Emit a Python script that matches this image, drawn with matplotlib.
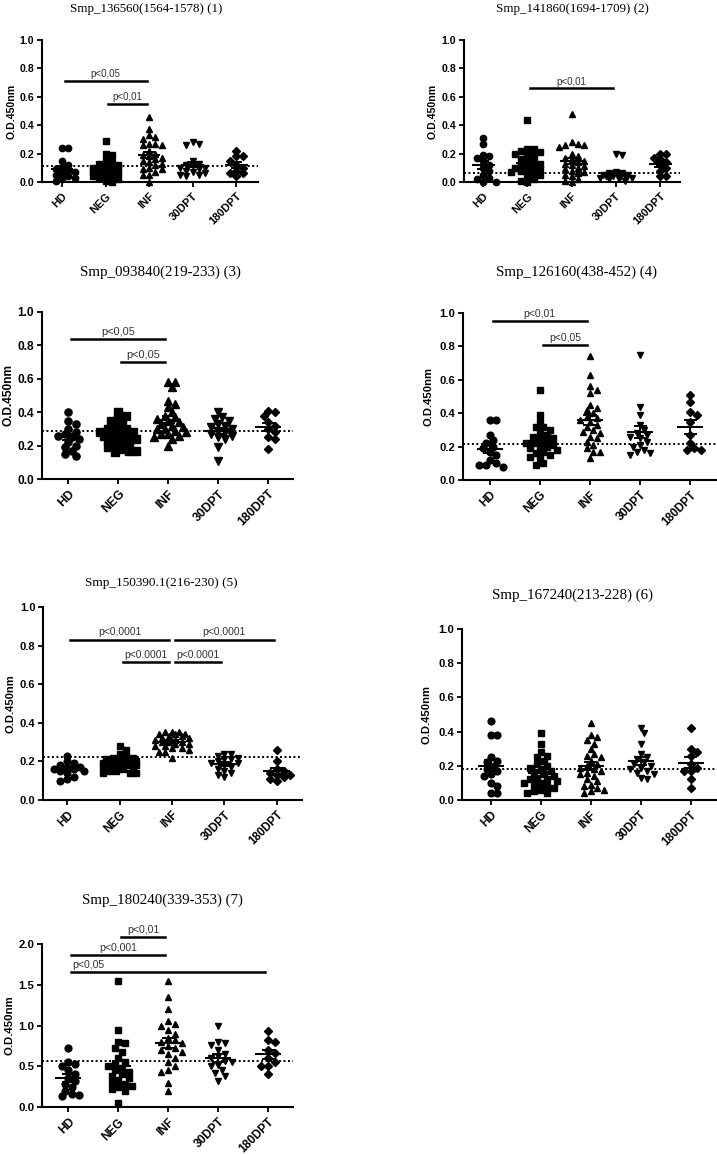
import numpy as np
import matplotlib.pyplot as plt

plt.rcParams['font.family'] = ['Liberation Sans', 'DejaVu Sans']

groups = ['HD', 'NEG', 'INF', '30DPT', '180DPT']
markers = ['o', 's', '^', 'v', 'D']

titles = ['Smp_136560(1564-1578) (1)', 'Smp_141860(1694-1709) (2)',
          'Smp_093840(219-233) (3)', 'Smp_126160(438-452) (4)',
          'Smp_150390.1(216-230) (5)', 'Smp_167240(213-228) (6)',
          'Smp_180240(339-353) (7)']

# panel 1
p1_hd = [0.24, 0.24, 0.15, 0.12, 0.10, 0.09, 0.08, 0.07, 0.06, 0.05, 0.04, 0.03, 0.02, 0.01]
p1_neg = [0.29, 0.20, 0.19, 0.15, 0.14, 0.13, 0.12, 0.11, 0.10, 0.10, 0.09, 0.09, 0.08,
          0.08, 0.07, 0.07, 0.06, 0.06, 0.05, 0.05, 0.04, 0.04, 0.03, 0.02, 0.01, 0.0]
p1_inf = [0.46, 0.37, 0.33, 0.32, 0.30, 0.27, 0.27, 0.26, 0.26, 0.22, 0.20, 0.19, 0.18,
          0.17, 0.16, 0.15, 0.14, 0.13, 0.12, 0.10, 0.09, 0.09, 0.07, 0.05, 0.05, 0.0]
p1_d30 = [0.28, 0.27, 0.26, 0.15, 0.13, 0.12, 0.11, 0.10, 0.10, 0.09, 0.08, 0.07, 0.06, 0.05, 0.05, 0.04]
p1_d180 = [0.22, 0.18, 0.18, 0.15, 0.12, 0.10, 0.08, 0.06, 0.06, 0.04]

# panel 2
p2_hd = [0.31, 0.27, 0.19, 0.18, 0.17, 0.15, 0.12, 0.10, 0.08, 0.05, 0.03, 0.02, 0.0, 0.0]
p2_neg = [0.44, 0.23, 0.23, 0.22, 0.21, 0.20, 0.19, 0.18, 0.16, 0.15, 0.14, 0.13, 0.12,
          0.11, 0.10, 0.10, 0.09, 0.08, 0.08, 0.07, 0.06, 0.05, 0.04, 0.02, 0.01, 0.0]
p2_inf = [0.48, 0.28, 0.27, 0.26, 0.26, 0.25, 0.20, 0.18, 0.17, 0.16, 0.15, 0.14, 0.13,
          0.12, 0.11, 0.10, 0.09, 0.08, 0.07, 0.06, 0.05, 0.04, 0.02, 0.01, 0.0]
p2_d30 = [0.20, 0.19, 0.07, 0.06, 0.06, 0.05, 0.05, 0.05, 0.04, 0.04, 0.04, 0.03, 0.03, 0.02, 0.02, 0.01]
p2_d180 = [0.20, 0.20, 0.17, 0.16, 0.14, 0.12, 0.10, 0.08, 0.04, 0.04]

# panel 3
p3_hd = [0.40, 0.35, 0.33, 0.30, 0.28, 0.27, 0.26, 0.25, 0.24, 0.22, 0.20, 0.19, 0.17, 0.15, 0.14]
p3_neg = [0.40, 0.38, 0.36, 0.35, 0.33, 0.32, 0.30, 0.30, 0.29, 0.28, 0.28, 0.27, 0.26,
          0.26, 0.25, 0.24, 0.24, 0.23, 0.22, 0.21, 0.20, 0.19, 0.18, 0.17, 0.17, 0.16]
p3_inf = [0.58, 0.58, 0.55, 0.47, 0.45, 0.43, 0.40, 0.38, 0.37, 0.36, 0.35, 0.34, 0.33,
          0.32, 0.31, 0.30, 0.30, 0.29, 0.28, 0.27, 0.27, 0.26, 0.25, 0.24, 0.20]
p3_d30 = [0.40, 0.37, 0.36, 0.35, 0.33, 0.32, 0.31, 0.30, 0.29, 0.28, 0.27, 0.26, 0.25, 0.24, 0.19, 0.11]
p3_d180 = [0.41, 0.40, 0.38, 0.34, 0.32, 0.30, 0.28, 0.25, 0.24, 0.18]

# panel 4
p4_hd = [0.36, 0.36, 0.27, 0.24, 0.22, 0.20, 0.19, 0.17, 0.15, 0.12, 0.10, 0.09, 0.09, 0.08]
p4_neg = [0.54, 0.39, 0.35, 0.32, 0.32, 0.30, 0.28, 0.27, 0.26, 0.25, 0.24, 0.23, 0.22,
          0.22, 0.21, 0.20, 0.20, 0.19, 0.18, 0.17, 0.16, 0.15, 0.14, 0.13, 0.10, 0.09]
p4_inf = [0.74, 0.63, 0.56, 0.54, 0.52, 0.45, 0.43, 0.42, 0.40, 0.38, 0.37, 0.36, 0.35,
          0.33, 0.32, 0.30, 0.29, 0.28, 0.26, 0.25, 0.23, 0.21, 0.19, 0.17, 0.17, 0.13]
p4_d30 = [0.75, 0.44, 0.39, 0.33, 0.30, 0.28, 0.27, 0.26, 0.25, 0.23, 0.21, 0.20, 0.18, 0.17, 0.16, 0.15]
p4_d180 = [0.51, 0.47, 0.41, 0.39, 0.35, 0.27, 0.22, 0.19, 0.18, 0.18]

# panel 5
p5_hd = [0.23, 0.20, 0.19, 0.18, 0.17, 0.17, 0.16, 0.16, 0.15, 0.15, 0.14, 0.12, 0.11, 0.10]
p5_neg = [0.28, 0.26, 0.24, 0.23, 0.22, 0.22, 0.21, 0.21, 0.20, 0.20, 0.20, 0.19, 0.19,
          0.19, 0.18, 0.18, 0.18, 0.17, 0.17, 0.16, 0.16, 0.15, 0.15, 0.14, 0.14, 0.14]
p5_inf = [0.35, 0.35, 0.35, 0.34, 0.34, 0.34, 0.33, 0.33, 0.32, 0.32, 0.31, 0.31, 0.30,
          0.30, 0.30, 0.29, 0.29, 0.28, 0.28, 0.27, 0.27, 0.26, 0.25, 0.25, 0.22]
p5_d30 = [0.24, 0.24, 0.23, 0.22, 0.21, 0.21, 0.20, 0.19, 0.19, 0.18, 0.17, 0.16, 0.15, 0.14, 0.13, 0.12]
p5_d180 = [0.26, 0.20, 0.16, 0.15, 0.14, 0.13, 0.13, 0.12, 0.11, 0.10]

# panel 6
p6_hd = [0.46, 0.38, 0.38, 0.25, 0.23, 0.22, 0.20, 0.18, 0.17, 0.15, 0.14, 0.10, 0.08, 0.04, 0.04]
p6_neg = [0.39, 0.33, 0.28, 0.26, 0.25, 0.23, 0.21, 0.20, 0.19, 0.18, 0.17, 0.16, 0.15, 0.14,
          0.13, 0.12, 0.12, 0.11, 0.10, 0.10, 0.09, 0.08, 0.07, 0.06, 0.05, 0.04, 0.04]
p6_inf = [0.45, 0.38, 0.37, 0.35, 0.33, 0.30, 0.27, 0.26, 0.25, 0.23, 0.21, 0.20, 0.19,
          0.18, 0.17, 0.16, 0.15, 0.14, 0.12, 0.11, 0.09, 0.08, 0.07, 0.06, 0.05, 0.04]
p6_d30 = [0.42, 0.39, 0.33, 0.27, 0.25, 0.24, 0.22, 0.21, 0.20, 0.19, 0.18, 0.17, 0.16, 0.15, 0.13, 0.12]
p6_d180 = [0.42, 0.30, 0.28, 0.26, 0.21, 0.19, 0.17, 0.17, 0.12, 0.07]

# panel 7
p7_hd = [0.72, 0.55, 0.53, 0.50, 0.45, 0.40, 0.35, 0.32, 0.28, 0.25, 0.20, 0.16, 0.15, 0.13]
p7_neg = [1.55, 0.95, 0.80, 0.78, 0.73, 0.68, 0.60, 0.55, 0.53, 0.50, 0.48, 0.45, 0.43,
          0.40, 0.38, 0.35, 0.33, 0.30, 0.28, 0.26, 0.25, 0.22, 0.20, 0.05]
p7_inf = [1.55, 1.35, 1.20, 1.05, 1.02, 1.00, 0.95, 0.90, 0.85, 0.82, 0.80, 0.78, 0.75,
          0.72, 0.70, 0.68, 0.65, 0.60, 0.55, 0.50, 0.45, 0.43, 0.30, 0.20]
p7_d30 = [1.00, 0.80, 0.78, 0.76, 0.70, 0.65, 0.62, 0.60, 0.57, 0.55, 0.52, 0.50, 0.45, 0.42, 0.38, 0.32]
p7_d180 = [0.93, 0.82, 0.80, 0.70, 0.66, 0.60, 0.55, 0.50, 0.50, 0.41]

panel_data = [
    [p1_hd, p1_neg, p1_inf, p1_d30, p1_d180],
    [p2_hd, p2_neg, p2_inf, p2_d30, p2_d180],
    [p3_hd, p3_neg, p3_inf, p3_d30, p3_d180],
    [p4_hd, p4_neg, p4_inf, p4_d30, p4_d180],
    [p5_hd, p5_neg, p5_inf, p5_d30, p5_d180],
    [p6_hd, p6_neg, p6_inf, p6_d30, p6_d180],
    [p7_hd, p7_neg, p7_inf, p7_d30, p7_d180],
]

cutoffs = [0.11, 0.06, 0.29, 0.215, 0.225, 0.18, 0.56]
y_max = [1.0, 1.0, 1.0, 1.0, 1.0, 1.0, 2.0]

# comparisons: (group a, group b, bar height, label, label x or None)
comparisons = [
    [(0, 2, 0.71, 'p<0,05', None), (1, 2, 0.55, 'p<0,01', None)],
    [(1, 3, 0.66, 'p<0,01', None)],
    [(0, 2, 0.84, 'p<0,05', None), (1, 2, 0.70, 'p<0,05', None)],
    [(0, 2, 0.95, 'p<0,01', None), (1, 2, 0.81, 'p<0,05', None)],
    [(0, 2, 0.83, 'p<0,0001', None), (2, 4, 0.83, 'p<0,0001', None),
     (1, 2, 0.715, 'p<0.0001', None), (2, 3, 0.715, 'p<0.0001', None)],
    [],
    [(1, 2, 2.09, 'p<0,01', None), (0, 2, 1.87, 'p<0,001', None),
     (0, 4, 1.66, 'p<0,05', 0.4)],
]

# layout in pixels: left, top, right, bottom of each axes
W, H = 717, 1155
rects = [(42, 40, 258, 182), (464, 40, 680, 182), (42, 312, 293, 479),
         (463, 313, 717, 480), (43, 607, 302, 800), (462, 629, 717, 800),
         (42, 944, 293, 1107)]
xlims = [(-0.46, 4.5), (-0.43, 4.45), (-0.53, 4.5), (-0.53, 4.53),
         (-0.46, 4.48), (-0.57, 4.53), (-0.53, 4.5)]
title_pos = [(146, 9), (572, 9), (160, 272), (576, 272), (161, 583), (572, 595), (162, 900)]
title_size = [9.4, 9.4, 10.8, 10.8, 9.5, 10.8, 10.8]
font_size = [7.6, 7.6, 8.6, 8.1, 8.0, 8.1, 8.2]
ylabel_off = [-25, -26, -27, -29, -27, -30, -27]

fig = plt.figure(figsize=(W / 100, H / 100), dpi=100)


def swarm(ax, x0, vals, d, max_w):
    # spread overlapping points sideways, Prism-like, within +/- max_w
    to_px = ax.transData.transform
    ppu = to_px((1, 0))[0] - to_px((0, 0))[0]
    lim = max_w * ppu
    ys = np.array([to_px((x0, v))[1] for v in vals])
    cands = [0.0]
    k = 1
    while k * d * 0.5 <= lim:
        cands += [k * d * 0.5, -k * d * 0.5]
        k += 1
    placed = []
    offs = np.zeros(len(vals))
    thr = d * 0.85
    for i in np.argsort(-ys):
        best, best_dist = 0.0, -1
        for c in cands:
            dist = min([np.hypot(c - px, ys[i] - py) for px, py in placed] + [1e9])
            if dist >= thr:
                best = c
                break
            if dist > best_dist:
                best, best_dist = c, dist
        placed.append((best, ys[i]))
        offs[i] = best / ppu
    return x0 + offs


for p in range(7):
    l, t, r, b = rects[p]
    ax = fig.add_axes([l / W, 1 - b / H, (r - l) / W, (b - t) / H])
    fs = font_size[p]
    ax.set_xlim(*xlims[p])
    ax.set_ylim(0, y_max[p])
    ms = fs * 0.6
    d = ms * 100 / 72

    for g, vals in enumerate(panel_data[p]):
        vals = np.array(vals)
        xs = swarm(ax, g, vals, d, 0.36)
        ax.plot(xs, vals, linestyle='none', marker=markers[g],
                ms=ms if markers[g] != 'D' else ms * 0.85,
                color='black', clip_on=False, zorder=3)
        m = vals.mean()
        sem = vals.std(ddof=1) / np.sqrt(len(vals))
        ax.plot([g - 0.26, g + 0.26], [m, m], color='black', lw=1.5, zorder=4, solid_capstyle='butt')
        ax.plot([g, g], [m - sem, m + sem], color='black', lw=1.4, zorder=4)
        for e in (m - sem, m + sem):
            ax.plot([g - 0.13, g + 0.13], [e, e], color='black', lw=1.4, zorder=4, solid_capstyle='butt')

    ax.axhline(cutoffs[p], color='black', lw=1.4, linestyle=(0, (1, 1.3)), zorder=2)

    for a, c, yb, lab, tx in comparisons[p]:
        ax.plot([a + 0.06, c - 0.06], [yb, yb], color='black', lw=1.8, clip_on=False, zorder=4)
        ax.text((a + c) / 2 if tx is None else tx, yb + 0.012 * y_max[p], lab,
                ha='center', va='bottom', fontsize=fs * 0.92, color='#333333', clip_on=False)

    for s in ('top', 'right'):
        ax.spines[s].set_visible(False)
    for s in ('left', 'bottom'):
        ax.spines[s].set_linewidth(1.5)
    step = 0.2 if y_max[p] == 1.0 else 0.5
    ticks = np.arange(0, y_max[p] + 1e-9, step)
    ax.set_yticks(ticks)
    ax.set_yticklabels(['%.1f' % v for v in ticks], fontsize=fs, fontweight='bold')
    ax.set_xticks(range(5))
    ax.set_xticklabels(groups, rotation=45, ha='right', rotation_mode='anchor',
                       fontsize=fs * 1.04, fontweight='bold')
    ax.tick_params(axis='y', direction='out', length=3.5, width=1.3, pad=2)
    ax.tick_params(axis='x', direction='out', length=3.5, width=1.3, pad=3)
    ax.set_ylabel('O.D.450nm', fontsize=fs, fontweight='bold')
    ax.yaxis.set_label_coords(ylabel_off[p] / (r - l), 0.5)

    tx, ty = title_pos[p]
    fig.text(tx / W, 1 - ty / H, titles[p], ha='center', va='center',
             fontsize=title_size[p], family='Liberation Serif')

fig.savefig('out.png', dpi=100)
